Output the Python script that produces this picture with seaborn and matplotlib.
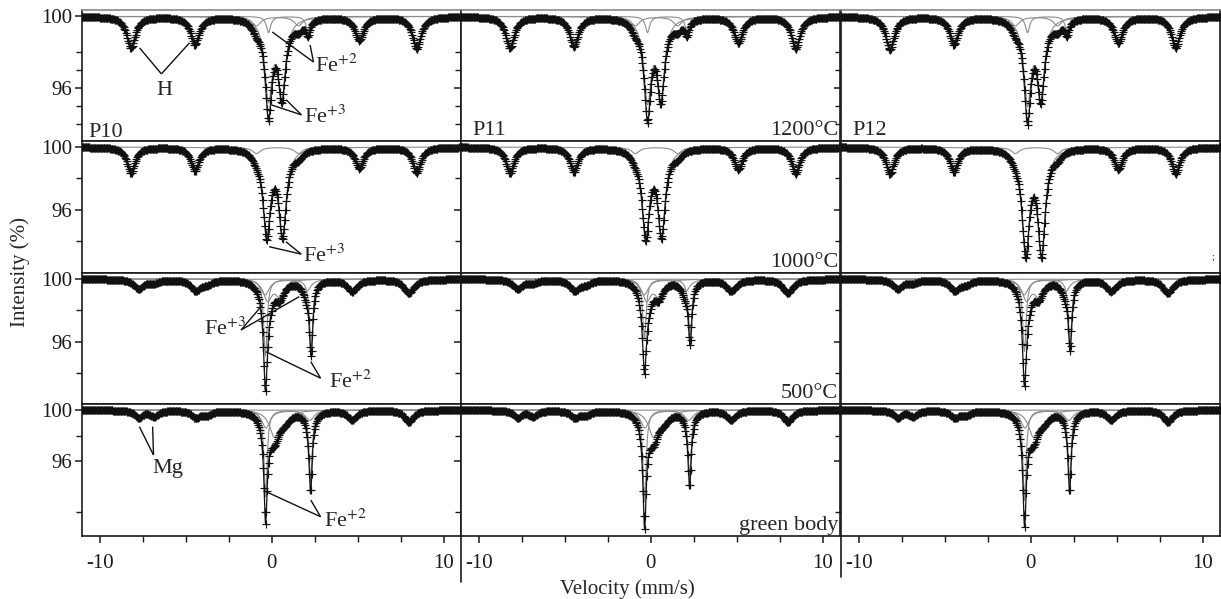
import numpy as np
import matplotlib
matplotlib.use("Agg")
import matplotlib.pyplot as plt
from matplotlib.lines import Line2D
from matplotlib.ticker import FixedLocator
import seaborn as sns

# ---------------------------------------------------------------- data ----
SAMPLES = ["P10", "P11", "P12"]
TEMPERATURES = ["1200°C", "1000°C", "500°C", "green body"]

# Lorentzian line positions of the fitted sub-spectra (mm/s)
HEM_POS = [-8.20, -4.48, -0.90, 1.55, 5.08, 8.42]        # hematite sextet
MAG_POS = [-7.75, -6.86, -4.43, -3.77, 4.67, 7.97]       # magnetite (Mg) lines

# 1200 °C
HEM_1200 = [[1.75, 1.55, 0.5, 0.5, 1.30, 1.80],
            [1.75, 1.65, 0.5, 0.5, 1.45, 1.80],
            [1.85, 1.55, 0.5, 0.5, 1.45, 1.75]]
FE3_1200_POS = [-0.20, 0.58]
FE3_1200 = [[4.4, 4.3], [4.5, 4.35], [4.6, 4.3]]
FE2_1200_POS = [-0.20, 2.10]
FE2_1200 = [[0.9, 0.8], [0.9, 0.8], [0.9, 0.8]]

# 1000 °C
HEM_1000 = [[1.65, 1.50, 0.4, 0.4, 1.33, 1.65],
            [1.65, 1.55, 0.4, 0.4, 1.40, 1.70],
            [1.70, 1.55, 0.4, 0.4, 1.40, 1.70]]
FE3_1000_POS = [-0.30, 0.62]
FE3_1000 = [[5.4, 5.4], [5.5, 5.4], [6.5, 6.5]]

# 500 °C
MAG_500 = [[0.60, 0.20, 0.70, 0.25, 0.75, 0.90]] * 3
FE2N_500_POS = [-0.38, 2.28]
FE2N_500 = [[4.9, 4.4], [3.8, 3.7], [4.6, 4.1]]
FE2B_500_POS = [-0.40, 2.00]
FE2B_500 = [[1.0, 0.8], [1.0, 0.8], [1.0, 0.8]]
FE3_500_POS = [-0.25, 0.45]
FE3_500 = [[1.3, 1.0], [1.3, 1.0], [1.3, 1.0]]

# green body
MAG_GB = [[0.55, 0.45, 0.55, 0.35, 0.75, 0.95]] * 3
FE2N_GB_POS = [-0.37, 2.25]
FE2N_GB = [[6.8, 5.6], [7.2, 5.2], [7.1, 5.6]]
FE2B_GB_POS = [-0.35, 2.20]
FE2B_GB = [[1.4, 0.8], [1.4, 0.8], [1.4, 0.8]]
FE3_GB_POS = [0.15, 0.75]
FE3_GB = [[2.0, 0.6], [2.0, 0.6], [2.0, 0.6]]

# sub-spectra per temperature row: (positions, half width, depths per sample)
SUBSPECTRA = [
    [(HEM_POS, 0.30, HEM_1200), (FE3_1200_POS, 0.26, FE3_1200), (FE2_1200_POS, 0.15, FE2_1200)],
    [(HEM_POS, 0.28, HEM_1000), (FE3_1000_POS, 0.26, FE3_1000)],
    [(MAG_POS, 0.35, MAG_500), (FE2N_500_POS, 0.12, FE2N_500),
     (FE2B_500_POS, 0.30, FE2B_500), (FE3_500_POS, 0.30, FE3_500)],
    [(MAG_POS, 0.30, MAG_GB), (FE2N_GB_POS, 0.11, FE2N_GB),
     (FE2B_GB_POS, 0.30, FE2B_GB), (FE3_GB_POS, 0.35, FE3_GB)],
]

N_CHANNELS = 512
V_RANGE = (-11.05, 11.05)


def absorption(v, positions, hwhm, depths):
    out = np.zeros_like(v)
    for p, d in zip(positions, depths):
        out += d / (1.0 + ((v - p) / hwhm) ** 2)
    return out


# --------------------------------------------------------------- style ----
sns.set_style("ticks")
plt.rcParams.update({
    "font.family": ["Liberation Serif", "DejaVu Serif"],
    "mathtext.fontset": "stix",
    "axes.unicode_minus": False,
    "axes.linewidth": 1.2,
    "axes.edgecolor": "#1a1a1a",
    "xtick.color": "#1a1a1a",
    "ytick.color": "#1a1a1a",
    "xtick.labelcolor": "#1a1a1a",
    "ytick.labelcolor": "#1a1a1a",
})

W, H = 1221, 599
fig = plt.figure(figsize=(W / 100, H / 100), dpi=100)

ROW_TOP = [10, 141, 273, 404]
ROW_BOTTOM = [141, 273, 404, 536]
COL_LEFT = [82, 461, 841]
COL_WIDTH = 379
YLIMS = [(93.04, 100.36), (92.0, 100.38), (92.06, 100.38), (90.12, 100.47)]
YMINOR = [[94, 95, 97, 98], [94, 98], [94, 98], [92, 98]]
XLIM = (-11.05, 11.0)

GRAY = "#8c8c8c"
INK = "#111111"

axes = [[None] * 3 for _ in range(4)]
v = np.linspace(*V_RANGE, N_CHANNELS)
v_fine = np.linspace(*V_RANGE, 3000)

for r in range(4):
    for c in range(3):
        left = COL_LEFT[c] / W
        bottom = 1 - ROW_BOTTOM[r] / H
        height = (ROW_BOTTOM[r] - ROW_TOP[r]) / H
        ax = fig.add_axes([left, bottom, COL_WIDTH / W, height])
        axes[r][c] = ax

        total = np.zeros_like(v)
        total_fine = np.zeros_like(v_fine)
        for positions, hwhm, depths in SUBSPECTRA[r]:
            comp_fine = absorption(v_fine, positions, hwhm, depths[c])
            sns.lineplot(x=v_fine, y=100 - comp_fine, ax=ax, color=GRAY,
                         linewidth=0.8, estimator=None, sort=False, zorder=1)
            total += absorption(v, positions, hwhm, depths[c])
            total_fine += comp_fine

        sns.scatterplot(x=v, y=100 - total, ax=ax, marker="+", color=INK,
                        s=38, linewidth=0.85, zorder=3)
        sns.lineplot(x=v_fine, y=100 - total_fine, ax=ax, color=INK,
                     linewidth=0.9, estimator=None, sort=False, zorder=4)

        ax.set_xlim(*XLIM)
        ax.set_ylim(*YLIMS[r])
        ax.set_xlabel("")
        ax.set_ylabel("")
        ax.set_xticks([-10, 0, 10])
        ax.set_xticklabels(["-10", "0", "10"])
        ax.xaxis.set_minor_locator(FixedLocator([-7.5, -5, -2.5, 2.5, 5, 7.5]))
        ax.set_yticks([96, 100])
        ax.set_yticklabels(["96", "100"])
        ax.yaxis.set_minor_locator(FixedLocator(YMINOR[r]))
        ax.tick_params(which="major", direction="out", length=5, width=1.1,
                       labelsize=15)
        ax.tick_params(which="minor", direction="out", length=4, width=1.0)
        ax.tick_params(axis="x", which="major", pad=8)
        ax.tick_params(axis="y", which="major", pad=2)
        ax.tick_params(labelbottom=(r == 3), labelleft=(c == 0))
        for side in ("top", "right", "bottom", "left"):
            ax.spines[side].set_visible(True)
        if r == 0:
            ax.spines["top"].set_color("#8a8a8a")
        ax.set_facecolor("white")

# -------------------------------------------------------- panel labels ----
LABEL_FS = 16
axes[0][0].text(0.016, 0.03, SAMPLES[0], transform=axes[0][0].transAxes,
                fontsize=LABEL_FS, ha="left", va="baseline")
axes[0][1].text(0.029, 0.046, SAMPLES[1], transform=axes[0][1].transAxes,
                fontsize=LABEL_FS, ha="left", va="baseline")
axes[0][2].text(0.029, 0.046, SAMPLES[2], transform=axes[0][2].transAxes,
                fontsize=LABEL_FS, ha="left", va="baseline")
for r, lab in enumerate(TEMPERATURES):
    axes[r][1].text(0.995, 0.046, lab, transform=axes[r][1].transAxes,
                    fontsize=LABEL_FS, ha="right", va="baseline", zorder=6)
axes[1][2].text(0.98, 0.10, ";", transform=axes[1][2].transAxes,
                fontsize=7, ha="center", va="baseline")


# ----------------------------------------------------------- annotations ----
def callout(ax, text, text_xy, origin, targets, ha="left", va="baseline"):
    for tx, ty in targets:
        ax.plot([origin[0], tx], [origin[1], ty], color=INK, lw=1.0,
                solid_capstyle="butt", zorder=5)
    ax.text(text_xy[0], text_xy[1], text, fontsize=LABEL_FS, ha=ha, va=va,
            zorder=6)


FE2 = r"Fe$^{+2}$"
FE3 = r"Fe$^{+3}$"
a = axes[0][0]
callout(a, "H", (-6.23, 95.84), (-6.43, 96.79), [(-7.7, 98.24), (-4.8, 98.52)],
        ha="center", va="center")
callout(a, FE2, (2.50, 96.9), (2.42, 97.45), [(0.02, 99.13), (2.22, 98.41)])
callout(a, FE3, (1.88, 94.05), (1.72, 94.5), [(-0.04, 95.06), (0.83, 95.34)])

a = axes[1][0]
callout(a, FE3, (1.78, 92.7), (1.70, 93.2), [(-0.16, 93.67), (0.81, 93.99)])

a = axes[2][0]
callout(a, FE3, (-3.93, 96.44), (-1.80, 96.76), [(-0.55, 98.35), (1.59, 98.88)])
callout(a, FE2, (3.33, 93.08), (2.83, 93.70), [(-0.35, 95.38), (2.26, 94.75)])

a = axes[3][0]
callout(a, "Mg", (-6.95, 95.06), (-6.89, 96.47), [(-7.71, 98.69), (-6.94, 98.69)])
callout(a, FE2, (3.04, 90.82), (2.83, 91.63), [(-0.35, 93.6), (2.26, 92.94)])

# --------------------------------------------------- figure-level labels ----
for x_px, y_end in ((461, 582), (841, 577)):
    fig.add_artist(Line2D([x_px / W, x_px / W], [1 - 536 / H, 1 - y_end / H],
                          transform=fig.transFigure, color="#1a1a1a", lw=1.2))

fig.text(20 / W, 1 - 272 / H, "Intensity (%)", rotation=90, fontsize=15,
         ha="center", va="center")
fig.text(627 / W, 1 - 589 / H, "Velocity (mm/s)", fontsize=15,
         ha="center", va="center")

fig.savefig("out.png", dpi=100, facecolor="white")
